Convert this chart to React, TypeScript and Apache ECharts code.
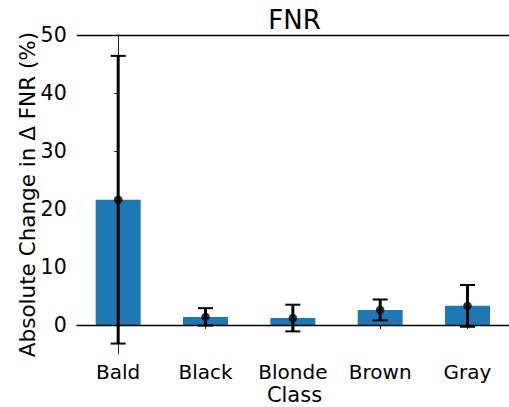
import React, { useEffect, useRef } from "react";
import * as echarts from "echarts";

// Hair-colour classes and the absolute change in Δ FNR (%)
const categories = ["Bald", "Black", "Blonde", "Brown", "Gray"];
const means = [21.6, 1.4, 1.2, 2.6, 3.3];
const errors = [24.8, 1.5, 2.3, 1.8, 3.6];
const yTicks = [0, 10, 20, 30, 40, 50];

const FONT = "DejaVu Sans";

export default function App() {
  const ref = useRef<HTMLDivElement>(null);

  useEffect(() => {
    if (!ref.current) return;
    const chart = echarts.init(ref.current, null, { renderer: "svg" });
    const xs = categories.map((_, i) => i);

    chart.setOption({
      animation: false,
      backgroundColor: "#ffffff",
      grid: { left: 76.7, top: 35, width: 435.6, height: 319 },
      graphic: [
        {
          type: "text",
          x: 294.5,
          y: 20,
          style: {
            text: "FNR",
            font: `26px "${FONT}"`,
            fill: "#000",
            align: "center",
            verticalAlign: "middle",
          },
        },
        {
          type: "text",
          x: 27,
          y: 194.5,
          rotation: Math.PI / 2,
          style: {
            text: "Absolute Change in Δ FNR (%)",
            font: `21.5px "${FONT}"`,
            fill: "#000",
            align: "center",
            verticalAlign: "middle",
          },
        },
        {
          type: "text",
          x: 294.5,
          y: 395,
          style: {
            text: "Class",
            font: `21px "${FONT}"`,
            fill: "#000",
            align: "center",
            verticalAlign: "middle",
          },
        },
      ],
      xAxis: {
        type: "value",
        min: -0.475,
        max: 4.475,
        axisLine: { show: true, lineStyle: { color: "#222", width: 1 } },
        axisTick: { show: true, length: 4, customValues: xs, lineStyle: { color: "#222" } },
        axisLabel: {
          customValues: xs,
          margin: 8,
          fontFamily: FONT,
          fontSize: 20,
          color: "#000",
          formatter: (v: number) => categories[Math.round(v)] ?? "",
        },
        splitLine: { show: false },
      },
      yAxis: {
        type: "value",
        min: -5,
        max: 50,
        axisLine: { show: true, lineStyle: { color: "#222", width: 1 } },
        axisTick: { show: true, length: 4, customValues: yTicks, lineStyle: { color: "#222" } },
        axisLabel: {
          customValues: yTicks,
          margin: 10,
          fontFamily: FONT,
          fontSize: 20.5,
          color: "#000",
        },
        splitLine: { show: false },
      },
      series: [
        {
          type: "bar",
          barWidth: 45,
          itemStyle: { color: "#1f77b4" },
          data: means.map((m, i) => [i, m]),
          z: 2,
          markLine: {
            silent: true,
            symbol: "none",
            label: { show: false },
            lineStyle: { color: "#000", width: 1.3, type: "solid" },
            data: [{ yAxis: 0 }, { yAxis: 50 }],
          },
        },
        {
          type: "custom",
          z: 3,
          data: means.map((m, i) => [i, m - errors[i], m + errors[i]]),
          renderItem: (_params: any, api: any) => {
            const x = api.value(0);
            const lo = api.coord([x, api.value(1)]);
            const hi = api.coord([x, api.value(2)]);
            const cap = 7.5;
            const capStyle = { stroke: "#000", lineWidth: 2 };
            return {
              type: "group",
              children: [
                {
                  type: "line",
                  shape: { x1: lo[0], y1: lo[1], x2: hi[0], y2: hi[1] },
                  style: { stroke: "#000", lineWidth: 3 },
                },
                {
                  type: "line",
                  shape: { x1: hi[0] - cap, y1: hi[1], x2: hi[0] + cap, y2: hi[1] },
                  style: capStyle,
                },
                {
                  type: "line",
                  shape: { x1: lo[0] - cap, y1: lo[1], x2: lo[0] + cap, y2: lo[1] },
                  style: capStyle,
                },
              ],
            };
          },
        },
        {
          type: "scatter",
          z: 4,
          symbol: "circle",
          symbolSize: 8.5,
          itemStyle: { color: "#000" },
          data: means.map((m, i) => [i, m]),
        },
      ],
    });

    return () => chart.dispose();
  }, []);

  return (
    <div
      ref={ref}
      style={{ position: "absolute", left: 0, top: 0, width: 509, height: 407 }}
    />
  );
}
